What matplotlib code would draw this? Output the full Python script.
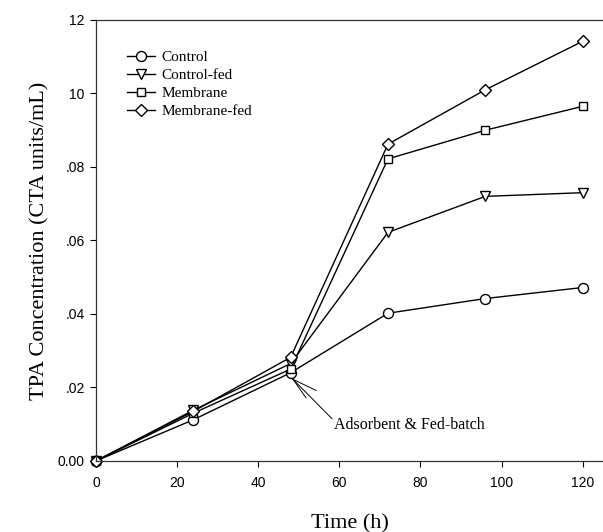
import matplotlib
matplotlib.use("Agg")
import matplotlib.pyplot as plt

# sampling times (h)
time_h = [0, 24, 48, 72, 96, 120]

# TPA concentration (CTA units/mL)
control = [0.0, 0.0112, 0.0240, 0.0402, 0.0442, 0.0472]
control_fed = [0.0, 0.0138, 0.0265, 0.0622, 0.0720, 0.0730]
membrane = [0.0, 0.0130, 0.0250, 0.0822, 0.0900, 0.0965]
membrane_fed = [0.0, 0.0135, 0.0282, 0.0862, 0.1010, 0.1142]

series_names = ["Control", "Control-fed", "Membrane", "Membrane-fed"]
series_marks = ["o", "v", "s", "D"]

yticks = [0.0, 0.02, 0.04, 0.06, 0.08, 0.10, 0.12]
ytick_labels = ["0.00", ".02", ".04", ".06", ".08", "10", "12"]
xticks = [0, 20, 40, 60, 80, 100, 120]

serif = "Liberation Serif"
sans = "Liberation Sans"

fig = plt.figure(figsize=(6.03, 5.32), dpi=100)
ax = fig.add_axes([0.159, 0.1335, 0.841, 0.829])

for vals, name, mk in zip([control, control_fed, membrane, membrane_fed],
                          series_names, series_marks):
    ms = 6.2 if mk in ("s", "D") else 7.2
    ax.plot(time_h, vals, color="black", lw=1.0, marker=mk, ms=ms,
            mfc="white", mec="black", mew=1.0, label=name, clip_on=False)

ax.set_xlim(0, 125)
ax.set_ylim(0, 0.12)
ax.set_xticks(xticks)
ax.set_yticks(yticks)
ax.set_yticklabels(ytick_labels)
ax.tick_params(direction="out", length=4, width=0.8, labelsize=10, pad=4)
for lab in ax.get_xticklabels() + ax.get_yticklabels():
    lab.set_fontfamily(sans)
ax.tick_params(axis="x", pad=7)

ax.spines["right"].set_visible(False)
for s in ("left", "bottom", "top"):
    ax.spines[s].set_linewidth(0.9)
    ax.spines[s].set_color("#333333")

ax.set_xlabel("Time (h)", fontsize=16, fontfamily=serif, labelpad=17)
ax.set_ylabel("TPA Concentration (CTA units/mL)", fontsize=16,
              fontfamily=serif, labelpad=6)

leg = ax.legend(loc="upper left", bbox_to_anchor=(0.05, 0.945), frameon=False,
                prop={"family": serif, "size": 11}, handlelength=1.8,
                handletextpad=0.45, labelspacing=0.28, borderaxespad=0)

# arrow shafts pointing at the 48 h feeding point
tip = (48.6, 0.0222)
for end in [(51.8, 0.0172), (54.3, 0.0192), (58.2, 0.0115)]:
    ax.plot([tip[0], end[0]], [tip[1], end[1]], color="black", lw=0.7)
ax.text(58.8, 0.0098, "Adsorbent & Fed-batch", fontsize=11.5,
        fontfamily=serif, va="center", ha="left")

fig.savefig("out.png", dpi=100)
